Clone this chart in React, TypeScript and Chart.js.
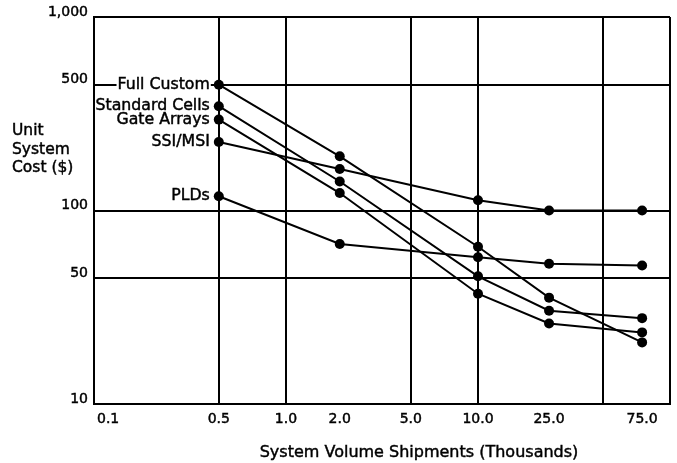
import React, { useEffect, useRef } from 'react';
import { Chart, registerables, LogarithmicScale } from 'chart.js';

// ---- data ----
const shipments = [0.5, 2, 10, 25, 75];
const fullCustom = [500, 200, 69, 39, 22];
const standardCells = [380, 145, 51, 33, 30];
const gateArrays = [320, 125, 41, 28, 25];
const ssiMsi = [240, 170, 114, 100, 100];
const plds = [120, 71, 62, 58, 57];
const seriesNames = ['Full Custom', 'Standard Cells', 'Gate Arrays', 'SSI/MSI', 'PLDs'];
const seriesValues = [fullCustom, standardCells, gateArrays, ssiMsi, plds];

const xTickValues = [0.1, 0.5, 1, 2, 5, 10, 25, 50, 75, 100];
const xTickLabels = ['0.1', '0.5', '1.0', '2.0', '5.0', '10.0', '25.0', '', '75.0', ''];
const xGridValues = [0.1, 0.5, 1, 5, 10, 50, 100];
const yTickValues = [10, 50, 100, 500, 1000];
const yTickLabels = ['10', '50', '100', '500', '1,000'];

const xTitle = 'System Volume Shipments (Thousands)';
const yTitleLines = ['Unit', 'System', 'Cost ($)'];

const FONT = "'DejaVu Sans', 'Liberation Sans', sans-serif";
const TEXT_STROKE = 0.45;

// The reference is drawn on 1-5-10 semi-log paper where "5" sits at 0.65 of each decade.
const FIVE_AT = 0.65;
function warp(v: number): number {
  const l = Math.log10(v);
  const d = Math.floor(l + 1e-9);
  const m = v / Math.pow(10, d);
  const f = m <= 5
    ? (FIVE_AT * Math.log(m)) / Math.log(5)
    : FIVE_AT + ((1 - FIVE_AT) * Math.log(m / 5)) / Math.log(2);
  return d + f;
}
function unwarp(p: number): number {
  const d = Math.floor(p);
  const f = p - d;
  const m = f <= FIVE_AT ? Math.pow(5, f / FIVE_AT) : 5 * Math.pow(2, (f - FIVE_AT) / (1 - FIVE_AT));
  return m * Math.pow(10, d);
}

class WarpedLogScale extends (LogarithmicScale as any) {
  static id = 'warpedLog';
  static defaults = (LogarithmicScale as any).defaults;
  getPixelForValue(value: any) {
    if (value === undefined || value === null || isNaN(value)) return NaN;
    const v = value > 0 ? value : this.min;
    const a = warp(this.min);
    const b = warp(this.max);
    return this.getPixelForDecimal((warp(v) - a) / (b - a));
  }
  getValueForPixel(pixel: number) {
    const a = warp(this.min);
    const b = warp(this.max);
    return unwarp(a + this.getDecimalForPixel(pixel) * (b - a));
  }
  _computeLabelItems(chartArea: any) {
    const items = super._computeLabelItems(chartArea);
    if (this.isHorizontal()) {
      items.forEach((it: any, i: number) => {
        const t = this.ticks[i];
        if (t && Math.abs(t.value - this.min) < 1e-9) {
          it.options.textAlign = 'left';
          it.options.translation = [this.left + 3, it.options.translation[1]];
        }
      });
    }
    return items;
  }
}

Chart.register(...registerables, WarpedLogScale as any);

const near = (a: number, b: number) => Math.abs(a - b) < 1e-6 * Math.max(1, Math.abs(b));

function drawText(ctx: any, text: string, x: number, y: number) {
  ctx.fillText(text, x, y);
  ctx.strokeText(text, x, y);
}

const annotations = {
  id: 'annotations',
  afterDatasetsDraw(chart: any) {
    const ctx = chart.ctx;
    ctx.save();
    ctx.font = `15.75px ${FONT}`;
    ctx.textAlign = 'right';
    ctx.textBaseline = 'middle';
    ctx.strokeStyle = '#000000';
    ctx.lineWidth = TEXT_STROKE;
    chart.data.datasets.forEach((ds: any, i: number) => {
      const pt = chart.getDatasetMeta(i).data[0];
      if (!pt) return;
      const x = pt.x - 9;
      const y = pt.y;
      const w = ctx.measureText(ds.label).width;
      const left = Math.max(x - w - 1, chart.chartArea.left + 2);
      ctx.fillStyle = '#ffffff';
      ctx.fillRect(left, y - 8, x + 1 - left, 16);
      ctx.fillStyle = '#000000';
      drawText(ctx, ds.label, x, y);
    });
    ctx.restore();
  },
  afterDraw(chart: any) {
    const ctx = chart.ctx;
    ctx.save();
    ctx.fillStyle = '#000000';
    ctx.strokeStyle = '#000000';
    ctx.lineWidth = TEXT_STROKE;
    ctx.textBaseline = 'alphabetic';
    ctx.font = `16px ${FONT}`;
    ctx.textAlign = 'center';
    drawText(ctx, xTitle, 419, 457);
    ctx.font = `15.5px ${FONT}`;
    ctx.textAlign = 'left';
    yTitleLines.forEach((line, i) => {
      drawText(ctx, line, 12, 135 + i * 18.5);
    });
    ctx.restore();
  },
};

export default function App() {
  const canvasRef = useRef<HTMLCanvasElement | null>(null);

  useEffect(() => {
    document.body.style.margin = '0';
    const canvas = canvasRef.current;
    if (!canvas) return;

    const datasets = seriesNames.map((name, si) => ({
      label: name,
      data: shipments.map((x, i) => ({ x, y: seriesValues[si][i] })),
      borderColor: '#000000',
      backgroundColor: '#000000',
      borderWidth: 2,
      pointRadius: 5,
      pointBorderWidth: 0,
      pointBackgroundColor: '#000000',
      tension: 0,
      fill: false,
    }));

    const tickFont = { family: FONT, size: 14 };

    const chart = new Chart(canvas, {
      type: 'line',
      data: { datasets },
      plugins: [annotations as any],
      options: {
        responsive: false,
        animation: false,
        layout: { padding: { top: 17, right: 2, left: 0, bottom: 0 } },
        plugins: {
          legend: { display: false },
          tooltip: { enabled: false },
          title: { display: false },
        },
        scales: {
          x: {
            type: 'warpedLog' as any,
            position: 'bottom',
            min: 0.1,
            max: 100,
            bounds: 'data',
            afterBuildTicks: (s: any) => {
              s.ticks = xTickValues.map((v) => ({ value: v }));
            },
            afterFit: (s: any) => {
              s.height = 59;
            },
            ticks: {
              autoSkip: false,
              maxRotation: 0,
              minRotation: 0,
              padding: 7,
              color: '#000000',
              textStrokeColor: '#000000',
              textStrokeWidth: TEXT_STROKE,
              font: tickFont,
              callback: (v: any) => {
                const i = xTickValues.findIndex((t) => near(t, Number(v)));
                return i >= 0 ? xTickLabels[i] : '';
              },
            },
            grid: {
              drawTicks: false,
              lineWidth: 2,
              color: (c: any) =>
                c.tick && xGridValues.some((g) => near(g, c.tick.value)) ? '#000000' : 'rgba(0,0,0,0)',
            },
            border: { display: true, color: '#000000', width: 2 },
          } as any,
          y: {
            type: 'warpedLog' as any,
            position: 'left',
            min: 10,
            max: 1000,
            bounds: 'data',
            afterBuildTicks: (s: any) => {
              s.ticks = yTickValues.map((v) => ({ value: v }));
            },
            afterFit: (s: any) => {
              s.width = 94;
            },
            ticks: {
              autoSkip: false,
              padding: 6,
              labelOffset: -5,
              color: '#000000',
              textStrokeColor: '#000000',
              textStrokeWidth: TEXT_STROKE,
              font: tickFont,
              callback: (v: any) => {
                const i = yTickValues.findIndex((t) => near(t, Number(v)));
                return i >= 0 ? yTickLabels[i] : '';
              },
            },
            grid: { drawTicks: false, lineWidth: 2, color: '#000000' },
            border: { display: true, color: '#000000', width: 2 },
          } as any,
        },
      } as any,
    });

    return () => chart.destroy();
  }, []);

  return (
    <div style={{ width: 677, height: 463 }}>
      <canvas ref={canvasRef} width={677} height={463} style={{ display: 'block' }} />
    </div>
  );
}
